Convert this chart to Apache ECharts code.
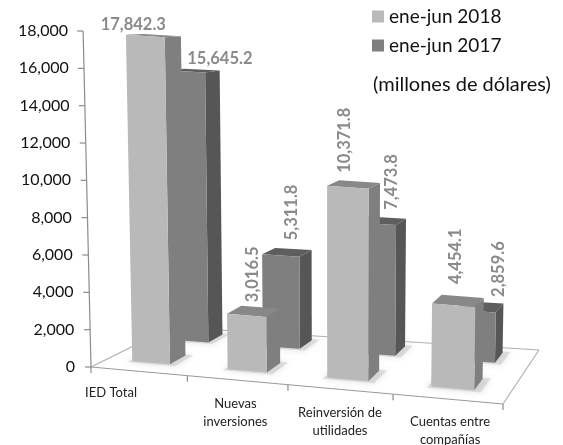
<!DOCTYPE html>
<html><head><meta charset="utf-8">
<style>html,body{margin:0;padding:0;background:#fff}#c{width:563px;height:445px;filter:blur(0.6px)}</style>
<script src="https://cdn.jsdelivr.net/npm/echarts@6/dist/echarts.min.js"></script>
</head><body><div id="c"></div>
<script>
const categories = ['IED Total', 'Nuevas\ninversiones', 'Reinversión de\nutilidades', 'Cuentas entre\ncompañías'];
const values2018 = [17842.3, 3016.5, 10371.8, 4454.1];
const values2017 = [15645.2, 5311.8, 7473.8, 2859.6];
const yTicks = [0, 2000, 4000, 6000, 8000, 10000, 12000, 14000, 16000, 18000];
const seriesNames = ['ene-jun 2018', 'ene-jun 2017'];

// ---- layout / style (not data) ----
const FONT = 'Lato, "Open Sans", sans-serif';
const FL = [91, 367], FR = [503, 404], BR = [539, 350], BL = [172, 327];
const G = -0.084;
const barU = [0.27, 0.67];
const rows = { r2018: [0.20, 0.41], r2017: [0.72, 0.91] };
const nudge2018 = [[-12, -11], [6, -41], [-3, -47], [2, -49]];
const nudge2017 = [[33, -13], [11, -43], [15, -42], [23, -42]];
const rot2018 = [0, 1, 1, 1], rot2017 = [0, 1, 1, 1];
const catLabelPos = [[20, 26], [48, 37], [52, 37], [57, 37]];
const colors = {
  r2018: { face: '#b9b9b9', side: '#7f7f7f', top: '#888888' },
  r2017: { face: '#7f7f7f', side: '#565656', top: '#5e5e5e' }
};

const lerp = (a, b, t) => [a[0] + (b[0] - a[0]) * t, a[1] + (b[1] - a[1]) * t];
// u: category position 0..4, d: depth 0..1, hPx: pixel height given by the value axis
function project(u, d, hPx) {
  const s = u / 4, sw = s * (1 + G) / (1 + G * s);
  const p = lerp(lerp(FL, FR, sw), lerp(BL, BR, sw), d);
  const px = hPx * (1 + 0.006 * u) * (1 - 0.11 * d);
  return [p[0] + (p[0] - 330) * 0.033 * (px / 336), p[1] - px];
}
function poly(points, fill, extra) {
  return Object.assign({ type: 'polygon', shape: { points }, style: { fill }, silent: true }, extra || {});
}
function barHeight(api, v) { return api.coord([0, 0])[1] - api.coord([0, v])[1]; }

function barRenderer(row, col, nudges, rots) {
  return function (params, api) {
    const i = api.value(0), v = api.value(1), hp = barHeight(api, v);
    const u0 = i + barU[0], u1 = i + barU[1], d0 = row[0], d1 = row[1];
    const fbl = project(u0, d0, 0), fbr = project(u1, d0, 0), bbr = project(u1, d1, 0);
    const ftl = project(u0, d0, hp), ftr = project(u1, d0, hp), btr = project(u1, d1, hp), btl = project(u0, d1, hp);
    const a = project((u0 + u1) / 2, d0, hp);
    return {
      type: 'group', children: [
        poly([fbr, bbr, btr, ftr], col.side),
        poly([ftl, ftr, btr, btl], col.top),
        poly([fbl, fbr, ftr, ftl], col.face),
        { type: 'text', x: a[0] + nudges[i][0], y: a[1] + nudges[i][1], rotation: rots[i] ? Math.PI / 2 : 0, silent: true,
          style: { text: v.toLocaleString('en-US', { minimumFractionDigits: 1, maximumFractionDigits: 1 }), align: 'center', verticalAlign: 'middle', fill: '#8a8a8a', font: 'bold 16.5px ' + FONT } }
      ]
    };
  };
}
function shadowRenderer(params, api) {
  const i = api.value(0), row = api.value(1) ? rows.r2017 : rows.r2018;
  const u0 = i + barU[0] - 0.03, u1 = i + barU[1] + 0.07, d0 = row[0] - 0.03, d1 = row[1] + 0.02;
  const fill = 'rgba(190,190,190,0.45)';
  return { type: 'group', children: [poly([project(u0, d0, 0), project(u1, d0, 0), project(u1, d1, 0), project(u0, d1, 0)], fill,
    { style: { fill, shadowBlur: 6, shadowColor: 'rgba(170,170,170,0.7)' } })] };
}
function floorRenderer(params, api) {
  const line = (a, b, c, w) => ({ type: 'line', silent: true, shape: { x1: a[0], y1: a[1], x2: b[0], y2: b[1] }, style: { stroke: c, lineWidth: w } });
  const kids = [
    poly([FL, FR, BR, BL], '#ffffff'),
    line(FL, FR, '#9a9a9a', 1.2), line(FR, BR, '#b0b0b0', 1.2), line(BR, BL, '#b0b0b0', 1.2), line(BL, FL, '#b0b0b0', 1.2)
  ];
  const topHp = barHeight(api, yTicks[yTicks.length - 1]);
  kids.push(line(project(0, 0, 0), project(0, 0, topHp), '#8c8c8c', 1.2));
  yTicks.forEach(t => {
    const p = project(0, 0, barHeight(api, t));
    kids.push(line([p[0] - 6, p[1]], p, '#8c8c8c', 1.2));
  });
  for (let u = 0; u <= categories.length; u++) {
    const p = project(u, 0, 0);
    kids.push(line(p, [p[0], p[1] + 6], '#8c8c8c', 1.2));
  }
  return { type: 'group', children: kids };
}
function catRenderer(params, api) {
  const i = api.value(0), p = project(i, 0, 0);
  return { type: 'text', silent: true, x: p[0] + catLabelPos[i][0], y: p[1] + catLabelPos[i][1],
    style: { text: categories[i], align: 'center', verticalAlign: 'middle', fill: '#222222', font: '13px ' + FONT, lineHeight: 18 } };
}

const rich = {};
yTicks.forEach(t => { rich['t' + t] = { padding: [0, 7 * t / 18000, 0, 0], fontSize: 16, fontFamily: FONT, color: '#111111' }; });

const shadowData = [];
categories.forEach((c, i) => { shadowData.push([i, 1]); });
categories.forEach((c, i) => { shadowData.push([i, 0]); });

const chart = echarts.init(document.getElementById('c'), null, { renderer: 'canvas' });
chart.setOption({
  animation: false,
  backgroundColor: '#ffffff',
  title: { text: '(millones de dólares)', left: 373, top: 75, padding: 0,
    textStyle: { fontFamily: FONT, fontSize: 20, fontWeight: 'normal', color: '#111111' } },
  legend: {
    data: seriesNames, orient: 'vertical', left: 372, top: 7, padding: 0, itemGap: 10, itemWidth: 12, itemHeight: 12, icon: 'rect',
    textStyle: { fontFamily: FONT, fontSize: 19, color: '#111111' }, selectedMode: false
  },
  grid: { left: 91, right: 60, top: 31, height: 336 },
  xAxis: { type: 'category', data: categories, axisLine: { show: false }, axisTick: { show: false }, axisLabel: { show: false }, splitLine: { show: false } },
  yAxis: {
    type: 'value', min: 0, max: 18000, interval: 2000, splitLine: { show: false }, axisLine: { show: false }, axisTick: { show: false },
    axisLabel: { margin: 16, formatter: v => '{t' + v + '|' + v.toLocaleString('en-US') + '}', rich }
  },
  series: [
    { name: 'floor', type: 'custom', coordinateSystem: 'cartesian2d', data: [[0, 0]], renderItem: floorRenderer, z: 1, silent: true },
    { name: 'shadow', type: 'custom', coordinateSystem: 'cartesian2d', data: shadowData, renderItem: shadowRenderer, z: 2, silent: true, encode: { x: 0, y: 1 } },
    { name: 'cats', type: 'custom', coordinateSystem: 'cartesian2d', data: categories.map((c, i) => [i, 0]), renderItem: catRenderer, z: 3, silent: true },
    { name: seriesNames[1], type: 'custom', coordinateSystem: 'cartesian2d', itemStyle: { color: colors.r2017.face }, z: 4, silent: true,
      data: values2017.map((v, i) => [i, v]), encode: { x: 0, y: 1 }, renderItem: barRenderer(rows.r2017, colors.r2017, nudge2017, rot2017) },
    { name: seriesNames[0], type: 'custom', coordinateSystem: 'cartesian2d', itemStyle: { color: colors.r2018.face }, z: 5, silent: true,
      data: values2018.map((v, i) => [i, v]), encode: { x: 0, y: 1 }, renderItem: barRenderer(rows.r2018, colors.r2018, nudge2018, rot2018) }
  ]
});
</script></body></html>
